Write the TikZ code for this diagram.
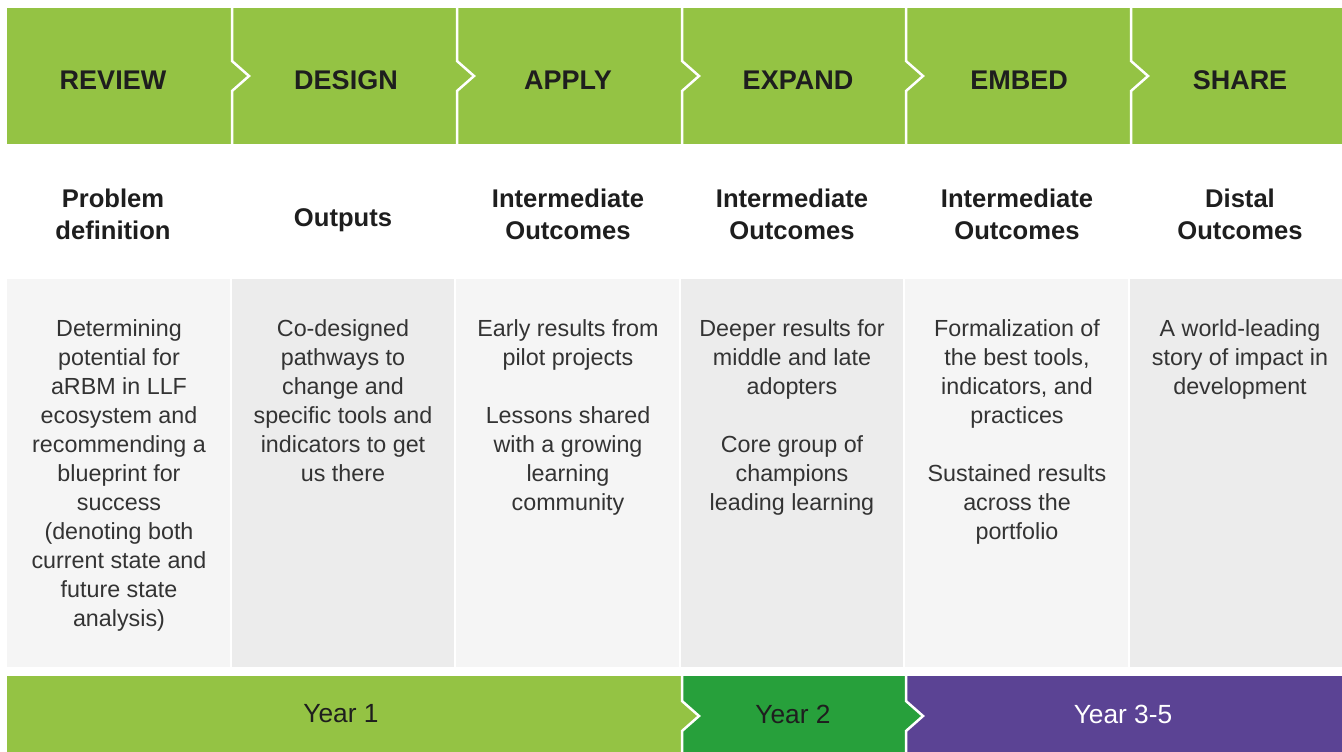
\documentclass[tikz,border=0pt]{standalone}
\usepackage{fontspec}
\setmainfont{Liberation Sans}
\definecolor{lg}{HTML}{94C344}
\definecolor{dg}{HTML}{27A03B}
\definecolor{pu}{HTML}{5B4394}
\definecolor{grayA}{HTML}{F5F5F5}
\definecolor{grayB}{HTML}{ECECEC}
\definecolor{txt}{HTML}{1E1E1E}
\definecolor{bodytxt}{HTML}{333333}
\begin{document}
\begin{tikzpicture}[x=1pt,y=-1pt]
\tikzset{
  hdr/.style={font=\bfseries\fontsize{27}{32}\selectfont, text=txt, inner sep=0},
  lbl/.style={font=\bfseries\fontsize{25.6}{32}\selectfont, align=center, text=txt, inner sep=0},
  body/.style={font=\fontsize{23.3}{29}\selectfont, align=center, text=bodytxt, anchor=north, inner sep=0},
  yr/.style={font=\fontsize{26.3}{30}\selectfont, inner sep=0},
  sep/.style={draw=white, line width=2.5pt},
}
\useasboundingbox (0,0) rectangle (1342,752);
\fill[white] (0,0) rectangle (1342,752);
% top bar
\fill[lg] (7,8) rectangle (1342,144);
\foreach \x in {232,457,682,906,1131}
  \draw[sep] (\x,7) -- (\x,61) -- ++(17,15) -- (\x,91) -- (\x,145);
\node[hdr] (h1) at (113,80) {REVIEW};
\node[hdr] (h2) at (346,80) {DESIGN};
\node[hdr] (h3) at (568,80) {APPLY};
\node[hdr] (h4) at (798,80) {EXPAND};
\node[hdr] (h5) at (1019,80) {EMBED};
\node[hdr] (h6) at (1240,80) {SHARE};
% second row labels
\node[lbl] (l1) at (113,214) {Problem\\definition};
\node[lbl] (l2) at (343,220) {Outputs};
\node[lbl] (l3) at (568,214) {Intermediate\\Outcomes};
\node[lbl] (l4) at (792,214) {Intermediate\\Outcomes};
\node[lbl] (l5) at (1017,214) {Intermediate\\Outcomes};
\node[lbl] (l6) at (1240,214) {Distal\\Outcomes};
% gray cells
\fill[grayA] (7,279) rectangle (230,667);
\fill[grayB] (232,279) rectangle (454,667);
\fill[grayA] (456,279) rectangle (679,667);
\fill[grayB] (681,279) rectangle (903,667);
\fill[grayA] (905,279) rectangle (1128,667);
\fill[grayB] (1130,279) rectangle (1342,667);
\node[body] (b1) at (119,319) {Determining\\potential for\\aRBM in LLF\\ecosystem and\\recommending a\\blueprint for\\success\\(denoting both\\current state and\\future state\\analysis)};
\node[body] (b2) at (343,319) {Co-designed\\pathways to\\change and\\specific tools and\\indicators to get\\us there};
\node[body] (b3) at (568,319) {Early results from\\pilot projects\\[29pt]Lessons shared\\with a growing\\learning\\community};
\node[body] (b4) at (792,319) {Deeper results for\\middle and late\\adopters\\[29pt]Core group of\\champions\\leading learning};
\node[body] (b5) at (1017,319) {Formalization of\\the best tools,\\indicators, and\\practices\\[29pt]Sustained results\\across the\\portfolio};
\node[body] (b6) at (1240,319) {A world-leading\\story of impact in\\development};
% bottom bar
\fill[pu] (906,676) rectangle (1342,752);
\fill[dg] (682,676) -- (906,676) -- (906,701) -- (923,716) -- (906,731) -- (906,752) -- (682,752) -- cycle;
\fill[lg] (7,676) -- (682,676) -- (682,701) -- (699,716) -- (682,731) -- (682,752) -- (7,752) -- cycle;
\foreach \x in {682,906}
  \draw[sep] (\x,675) -- (\x,701) -- ++(17,15) -- (\x,731) -- (\x,753);
\node[yr, text=txt] (y1) at (341,714) {Year 1};
\node[yr, text=txt] (y2) at (793,714) {Year 2};
\node[yr, text=white] (y3) at (1123,714) {Year 3-5};
\end{tikzpicture}
\end{document}
